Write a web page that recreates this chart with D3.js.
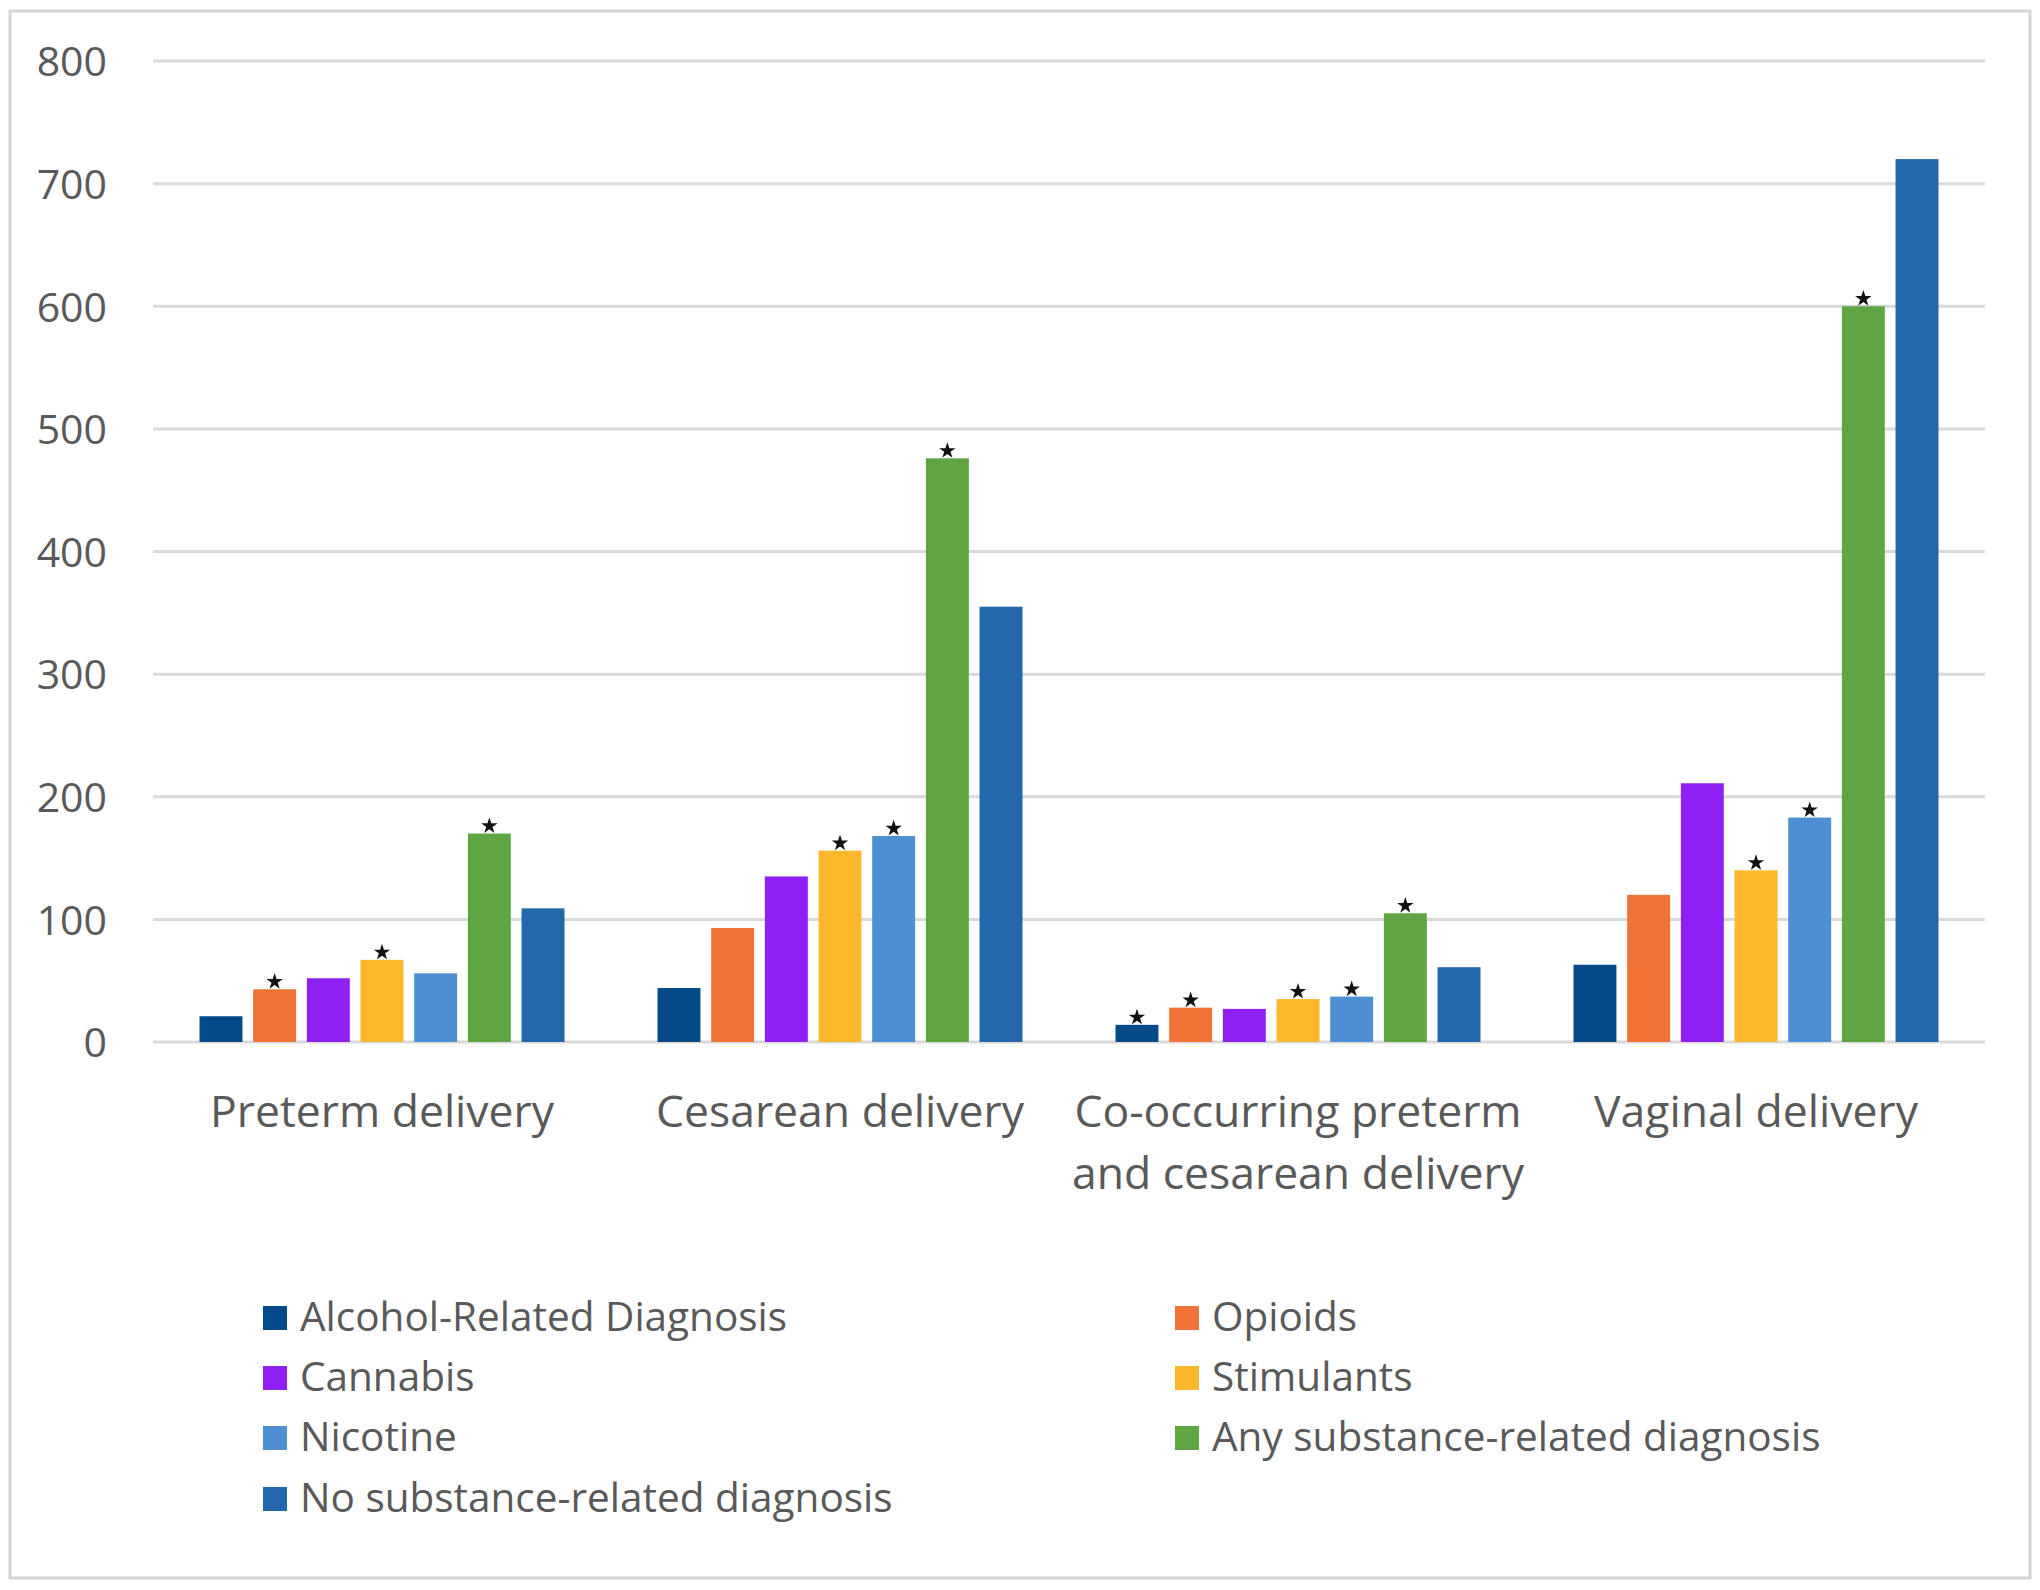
<!DOCTYPE html>
<html>
<head>
<meta charset="utf-8">
<script src="https://cdn.jsdelivr.net/npm/d3@7"></script>
<style>
  html, body { margin: 0; padding: 0; background: #ffffff; }
  svg { display: block; }
  text { font-family: "Open Sans", "Noto Sans", sans-serif; fill: #595959; }
</style>
</head>
<body>
<script>
// ---- Data ----
const categories = ["Preterm delivery", "Cesarean delivery", "Co-occurring preterm and cesarean delivery", "Vaginal delivery"];
const categoryLines = [["Preterm delivery"], ["Cesarean delivery"], ["Co-occurring preterm", "and cesarean delivery"], ["Vaginal delivery"]];
const seriesNames = ["Alcohol-Related Diagnosis", "Opioids", "Cannabis", "Stimulants", "Nicotine", "Any substance-related diagnosis", "No substance-related diagnosis"];
const seriesColors = ["#044A88", "#EF7236", "#8E20F4", "#FCB72A", "#4D8FD0", "#5FA643", "#2368AA"];
// values[series][category]
const alcohol    = [21, 44, 14, 63];
const opioids    = [43, 93, 28, 120];
const cannabis   = [52, 135, 27, 211];
const stimulants = [67, 156, 35, 140];
const nicotine   = [56, 168, 37, 183];
const anySubst   = [170, 476, 105, 600];
const noSubst    = [109, 355, 61, 720];
const seriesValues = [alcohol, opioids, cannabis, stimulants, nicotine, anySubst, noSubst];
// significance markers (star) per series per category
const starAlcohol    = [false, false, true, false];
const starOpioids    = [true, false, true, false];
const starCannabis   = [false, false, false, false];
const starStimulants = [true, true, true, true];
const starNicotine   = [false, true, true, true];
const starAny        = [true, true, true, true];
const starNo         = [false, false, false, false];
const seriesStars = [starAlcohol, starOpioids, starCannabis, starStimulants, starNicotine, starAny, starNo];
const yTicks = [0, 100, 200, 300, 400, 500, 600, 700, 800];

// ---- Layout ----
const W = 2040, H = 1590;
const plot = { left: 153, right: 1985, top: 61, bottom: 1042 };

const svg = d3.select("body").append("svg").attr("width", W).attr("height", H);
svg.append("rect").attr("x", 0).attr("y", 0).attr("width", W).attr("height", H).attr("fill", "#ffffff");
svg.append("rect").attr("x", 10).attr("y", 11).attr("width", 2020).attr("height", 1567)
  .attr("fill", "none").attr("stroke", "#d4d4d4").attr("stroke-width", 3);

const y = d3.scaleLinear().domain([0, 800]).range([plot.bottom, plot.top]);
const x0 = d3.scaleBand().domain(categories).range([plot.left, plot.right]).padding(0);
const groupW = 365;
const x1 = d3.scaleBand().domain(seriesNames)
  .range([(x0.bandwidth() - groupW) / 2, (x0.bandwidth() + groupW) / 2])
  .paddingInner(0.2).paddingOuter(0);

// gridlines
const grid = svg.append("g");
grid.selectAll("line").data(yTicks).join("line")
  .attr("x1", plot.left).attr("x2", plot.right)
  .attr("y1", d => y(d)).attr("y2", d => y(d))
  .attr("stroke", "#d9d9d9").attr("stroke-width", 3);

// y axis labels
const yAxis = d3.axisLeft(y).tickValues(yTicks).tickSize(0).tickPadding(0);
const yg = svg.append("g").attr("transform", `translate(107,0)`).call(yAxis);
yg.select(".domain").remove();
yg.selectAll("text").attr("font-size", 41).attr("fill", "#595959")
  .attr("font-family", "'Open Sans', sans-serif").attr("dy", "0.36em");

// bars
const rows = [];
seriesNames.forEach((s, si) => {
  categories.forEach((c, ci) => {
    rows.push({ s, si, c, ci, v: seriesValues[si][ci], star: seriesStars[si][ci] });
  });
});
svg.append("g").selectAll("rect").data(rows).join("rect")
  .attr("x", d => x0(d.c) + x1(d.s))
  .attr("width", x1.bandwidth())
  .attr("y", d => y(d.v))
  .attr("height", d => y(0) - y(d.v))
  .attr("fill", d => seriesColors[d.si]);

// stars
const starSym = d3.symbol().type(d3.symbolStar).size(84);
svg.append("g").selectAll("path").data(rows.filter(d => d.star)).join("path")
  .attr("d", starSym)
  .attr("transform", d => `translate(${x0(d.c) + x1(d.s) + x1.bandwidth() / 2},${y(d.v) - 7.5})`)
  .attr("fill", "#111111");

// category labels
const catG = svg.append("g");
categories.forEach((c, ci) => {
  const t = catG.append("text")
    .attr("x", x0(c) + x0.bandwidth() / 2)
    .attr("y", 1127)
    .attr("text-anchor", "middle")
    .attr("font-size", 44.5);
  categoryLines[ci].forEach((line, li) => {
    t.append("tspan").attr("x", x0(c) + x0.bandwidth() / 2)
      .attr("dy", li === 0 ? 0 : 62).text(line);
  });
});

// legend
const legendCols = [263, 1175];
const legendRows = [1331, 1391, 1451, 1512];
const lg = svg.append("g");
seriesNames.forEach((s, i) => {
  const col = i % 2, row = Math.floor(i / 2);
  const lx = legendCols[col], ly = legendRows[row];
  lg.append("rect").attr("x", lx).attr("y", ly - 25).attr("width", 24).attr("height", 24)
    .attr("fill", seriesColors[i]);
  lg.append("text").attr("x", lx + 37).attr("y", ly).attr("font-size", 40.5).text(s);
});
</script>
</body>
</html>
